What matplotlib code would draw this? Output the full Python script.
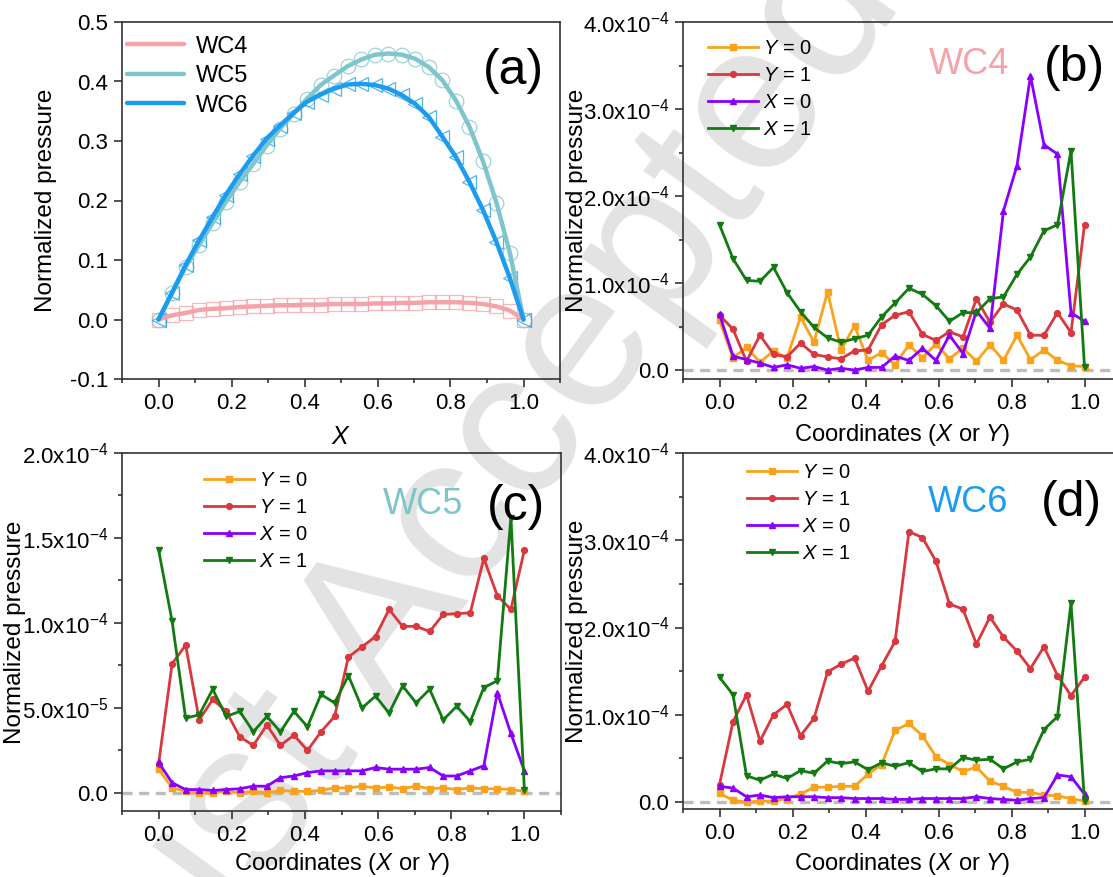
import numpy as np
import matplotlib
matplotlib.use('Agg')
import matplotlib.pyplot as plt
from matplotlib.ticker import MultipleLocator, FuncFormatter

plt.rcParams['font.family'] = ['Liberation Sans', 'DejaVu Sans']
plt.rcParams['mathtext.fontset'] = 'custom'
plt.rcParams['mathtext.rm'] = 'Liberation Sans'
plt.rcParams['mathtext.it'] = 'Liberation Sans:italic'
plt.rcParams['axes.unicode_minus'] = False

# ---------------- data ----------------
coords = [0.000, 0.037, 0.074, 0.111, 0.148, 0.185, 0.222, 0.259, 0.296, 0.333,
          0.370, 0.407, 0.444, 0.481, 0.519, 0.556, 0.593, 0.630, 0.667, 0.704,
          0.741, 0.778, 0.815, 0.852, 0.889, 0.926, 0.963, 1.000]

# panel (a): normalized pressure along X
wc4_a = [0.000, 0.007, 0.011, 0.016, 0.018, 0.019, 0.021, 0.022, 0.023, 0.024,
         0.024, 0.025, 0.025, 0.026, 0.026, 0.026, 0.027, 0.027, 0.028, 0.028,
         0.029, 0.029, 0.029, 0.028, 0.026, 0.022, 0.015, 0.000]
wc5_a = [0.000, 0.044, 0.088, 0.125, 0.162, 0.198, 0.231, 0.261, 0.292, 0.321,
         0.346, 0.371, 0.394, 0.410, 0.426, 0.437, 0.445, 0.447, 0.445, 0.438,
         0.424, 0.402, 0.368, 0.324, 0.266, 0.196, 0.111, 0.000]
wc6_a = [0.000, 0.045, 0.091, 0.133, 0.172, 0.210, 0.244, 0.275, 0.304, 0.326,
         0.347, 0.366, 0.378, 0.388, 0.395, 0.396, 0.394, 0.388, 0.377, 0.362,
         0.340, 0.307, 0.273, 0.231, 0.184, 0.130, 0.069, 0.000]

# panels (b)-(d): values in units of 1e-4
wc4_y0 = [0.57, 0.14, 0.26, 0.09, 0.22, 0.14, 0.61, 0.32, 0.90, 0.23, 0.51, 0.11, 0.20, 0.06,
          0.29, 0.14, 0.30, 0.13, 0.25, 0.10, 0.29, 0.11, 0.40, 0.12, 0.23, 0.11, 0.05, 0.04]
wc4_y1 = [0.63, 0.47, 0.10, 0.40, 0.18, 0.15, 0.31, 0.18, 0.15, 0.13, 0.22, 0.23, 0.52, 0.63,
          0.67, 0.41, 0.34, 0.44, 0.38, 0.82, 0.55, 0.76, 0.69, 0.40, 0.40, 0.66, 0.43, 1.67]
wc4_x0 = [0.64, 0.16, 0.12, 0.08, 0.03, 0.06, 0.02, 0.04, 0.00, 0.02, 0.00, 0.03, 0.03, 0.16,
          0.11, 0.25, 0.11, 0.40, 0.19, 0.68, 0.48, 1.83, 2.35, 3.38, 2.59, 2.48, 0.66, 0.56]
wc4_x1 = [1.67, 1.28, 1.03, 1.02, 1.18, 0.89, 0.67, 0.49, 0.37, 0.32, 0.36, 0.40, 0.61, 0.77,
          0.94, 0.87, 0.74, 0.56, 0.66, 0.66, 0.82, 0.84, 1.10, 1.30, 1.60, 1.67, 2.52, 0.04]

wc5_y0 = [0.14, 0.03, 0.01, 0.00, 0.00, 0.01, 0.00, 0.01, 0.00, 0.015, 0.01, 0.01, 0.015, 0.03,
          0.03, 0.04, 0.03, 0.035, 0.025, 0.04, 0.025, 0.03, 0.02, 0.03, 0.025, 0.025, 0.02, 0.01]
wc5_y1 = [0.17, 0.76, 0.87, 0.43, 0.55, 0.48, 0.33, 0.28, 0.40, 0.28, 0.34, 0.25, 0.36, 0.45,
          0.80, 0.86, 0.92, 1.08, 0.98, 0.98, 0.95, 1.05, 1.055, 1.06, 1.38, 1.16, 1.08, 1.43]
wc5_x0 = [0.18, 0.06, 0.02, 0.02, 0.015, 0.02, 0.025, 0.04, 0.04, 0.09, 0.10, 0.12, 0.13, 0.13,
          0.13, 0.13, 0.15, 0.14, 0.14, 0.14, 0.15, 0.10, 0.10, 0.13, 0.16, 0.59, 0.35, 0.13]
wc5_x1 = [1.43, 1.01, 0.44, 0.46, 0.61, 0.45, 0.48, 0.36, 0.45, 0.36, 0.48, 0.39, 0.58, 0.53,
          0.69, 0.50, 0.57, 0.47, 0.63, 0.53, 0.61, 0.43, 0.51, 0.42, 0.62, 0.66, 1.62, 0.015]

wc6_y0 = [0.10, 0.02, 0.00, 0.01, 0.01, 0.04, 0.09, 0.17, 0.17, 0.18, 0.18, 0.32, 0.43, 0.82,
          0.90, 0.76, 0.52, 0.43, 0.35, 0.40, 0.24, 0.18, 0.11, 0.11, 0.08, 0.07, 0.04, 0.01]
wc6_y1 = [0.20, 0.92, 1.23, 0.70, 1.00, 1.12, 0.76, 0.96, 1.49, 1.58, 1.65, 1.27, 1.56, 1.84,
          3.10, 3.03, 2.76, 2.27, 2.21, 1.81, 2.12, 1.89, 1.73, 1.53, 1.78, 1.45, 1.22, 1.43]
wc6_x0 = [0.18, 0.16, 0.06, 0.08, 0.05, 0.06, 0.06, 0.06, 0.05, 0.05, 0.04, 0.04, 0.04, 0.03,
          0.03, 0.04, 0.04, 0.04, 0.04, 0.06, 0.04, 0.03, 0.02, 0.04, 0.05, 0.31, 0.29, 0.09]
wc6_x1 = [1.43, 1.23, 0.30, 0.25, 0.32, 0.27, 0.36, 0.33, 0.47, 0.44, 0.46, 0.37, 0.45, 0.41,
          0.45, 0.35, 0.38, 0.38, 0.51, 0.48, 0.49, 0.38, 0.46, 0.49, 0.83, 0.98, 2.28, 0.01]

series_labels = [r'$\it{Y}$ = 0', r'$\it{Y}$ = 1', r'$\it{X}$ = 0', r'$\it{X}$ = 1']
series_colors = ['#FBA21C', '#D8383E', '#8A00FA', '#137A12']
series_markers = ['s', 'o', '^', 'v']
case_labels = ['WC4', 'WC5', 'WC6']
case_colors = ['#F6A2A9', '#7EC6CC', '#1C9CF0']
case_markers = ['s', 'o', '<']

# ---------------- figure ----------------
W, H = 1113, 877
fig = plt.figure(figsize=(W / 100, H / 100), dpi=100)


def px_axes(left, top, right, bottom):
    return fig.add_axes([left / W, 1 - bottom / H, (right - left) / W, (bottom - top) / H])


def style_axes(ax):
    ax.set_facecolor('none')
    for s in ax.spines.values():
        s.set_linewidth(1.2)
        s.set_color('#333333')
    ax.tick_params(which='both', direction='out', labelsize=16, width=1.2, color='#333333',
                   top=False, right=False, pad=4.5)
    ax.tick_params(which='major', length=5.5)
    ax.tick_params(which='minor', length=3)
    ax.set_xlim(-0.1, 1.1)
    ax.xaxis.set_major_locator(MultipleLocator(0.2))
    ax.xaxis.set_minor_locator(MultipleLocator(0.1))
    ax.xaxis.set_major_formatter(FuncFormatter(lambda v, p: f"{v:.1f}"))


def sci_fmt(v, pos):
    if abs(v) < 1e-12:
        return "0.0"
    exp = int(np.floor(np.log10(abs(v)) + 1e-9))
    mant = v / 10 ** exp
    return f"{mant:.1f}x10$^{{{exp}}}$"


# watermark
fig.text(0.427, 0.428, "Just Accepted", rotation=54, fontsize=152, color='#E3E3E3',
         ha='center', va='center', zorder=-5)

# ---- panel (a)
axa = px_axes(122, 22, 560, 379)
style_axes(axa)
for vals, lab, col, mk in zip([wc4_a, wc5_a, wc6_a], case_labels, case_colors, case_markers):
    axa.plot(coords, vals, linestyle='none', marker=mk, markersize=10.5, markerfacecolor='none',
             markeredgecolor=col, markeredgewidth=0.9, alpha=0.75, zorder=2)
    axa.plot(coords, vals, color=col, lw=3.2, label=lab, zorder=3, solid_capstyle='round')
axa.set_ylim(-0.1, 0.5)
axa.yaxis.set_major_locator(MultipleLocator(0.1))
axa.yaxis.set_major_formatter(FuncFormatter(lambda v, p: f"{v:.1f}"))
axa.set_ylabel('Normalized pressure', fontsize=17.5)
axa.set_xlabel(r'$\it{X}$', fontsize=18)
axa.yaxis.set_label_coords(-0.148, 0.5)
axa.xaxis.set_label_coords(0.5, -0.128)
axa.legend(loc='upper left', bbox_to_anchor=(0.012, 0.962), frameon=False, fontsize=17,
           handlelength=2.4, handletextpad=0.5, labelspacing=0.32, borderpad=0, borderaxespad=0)
fig.text(513 / W, 1 - 71 / H, '(a)', fontsize=36, ha='center', va='center')

# ---- panels (b)-(d)
panel_specs = [
    ((683, 22, 1121, 379), [wc4_y0, wc4_y1, wc4_x0, wc4_x1], -0.103, 4.0, 1.0, 0.5,
     (0.057, 0.952), '(b)', (1074, 68), 'WC4', (969, 64), case_colors[0], -0.12),
    ((122, 453, 561, 811), [wc5_y0, wc5_y1, wc5_x0, wc5_x1], -0.106, 2.0, 0.5, 0.25,
     (0.187, 0.95), '(c)', (516, 507), 'WC5', (423, 504), case_colors[1], -0.112),
    ((683, 453, 1121, 809), [wc6_y0, wc6_y1, wc6_x0, wc6_x1], -0.08, 4.0, 1.0, 0.5,
     (0.146, 0.972), '(d)', (1071, 503), 'WC6', (968, 503), case_colors[2], -0.118),
]

for (box, data, ylo, yhi, maj, mnr, legpos, plab, ppos, wlab, wpos, wcol, xly) in panel_specs:
    ax = px_axes(*box)
    style_axes(ax)
    ax.axhline(0, color='#BDBDBD', lw=2.4, ls=(0, (3, 2)), zorder=1)
    for vals, lab, col, mk in zip(data, series_labels, series_colors, series_markers):
        ax.plot(coords, np.array(vals) * 1e-4, color=col, lw=2.0, marker=mk, markersize=4.2,
                label=lab, zorder=3)
    ax.set_ylim(ylo * 1e-4, yhi * 1e-4)
    ax.yaxis.set_major_locator(MultipleLocator(maj * 1e-4))
    ax.yaxis.set_minor_locator(MultipleLocator(mnr * 1e-4))
    ax.yaxis.set_major_formatter(FuncFormatter(sci_fmt))
    ax.set_ylabel('Normalized pressure', fontsize=17.5)
    ax.set_xlabel(r'Coordinates ($\it{X}$ or $\it{Y}$)', fontsize=17)
    ax.yaxis.set_label_coords(-0.218, 0.5)
    ax.xaxis.set_label_coords(0.5, xly)
    ax.legend(loc='upper left', bbox_to_anchor=legpos, frameon=False, fontsize=14.5,
              handlelength=2.5, handletextpad=0.25, labelspacing=0.4, borderpad=0,
              borderaxespad=0)
    fig.text(ppos[0] / W, 1 - ppos[1] / H, plab, fontsize=36, ha='center', va='center')
    fig.text(wpos[0] / W, 1 - wpos[1] / H, wlab, fontsize=26, ha='center', va='center',
             color=wcol)

fig.savefig('out.png', dpi=100)
